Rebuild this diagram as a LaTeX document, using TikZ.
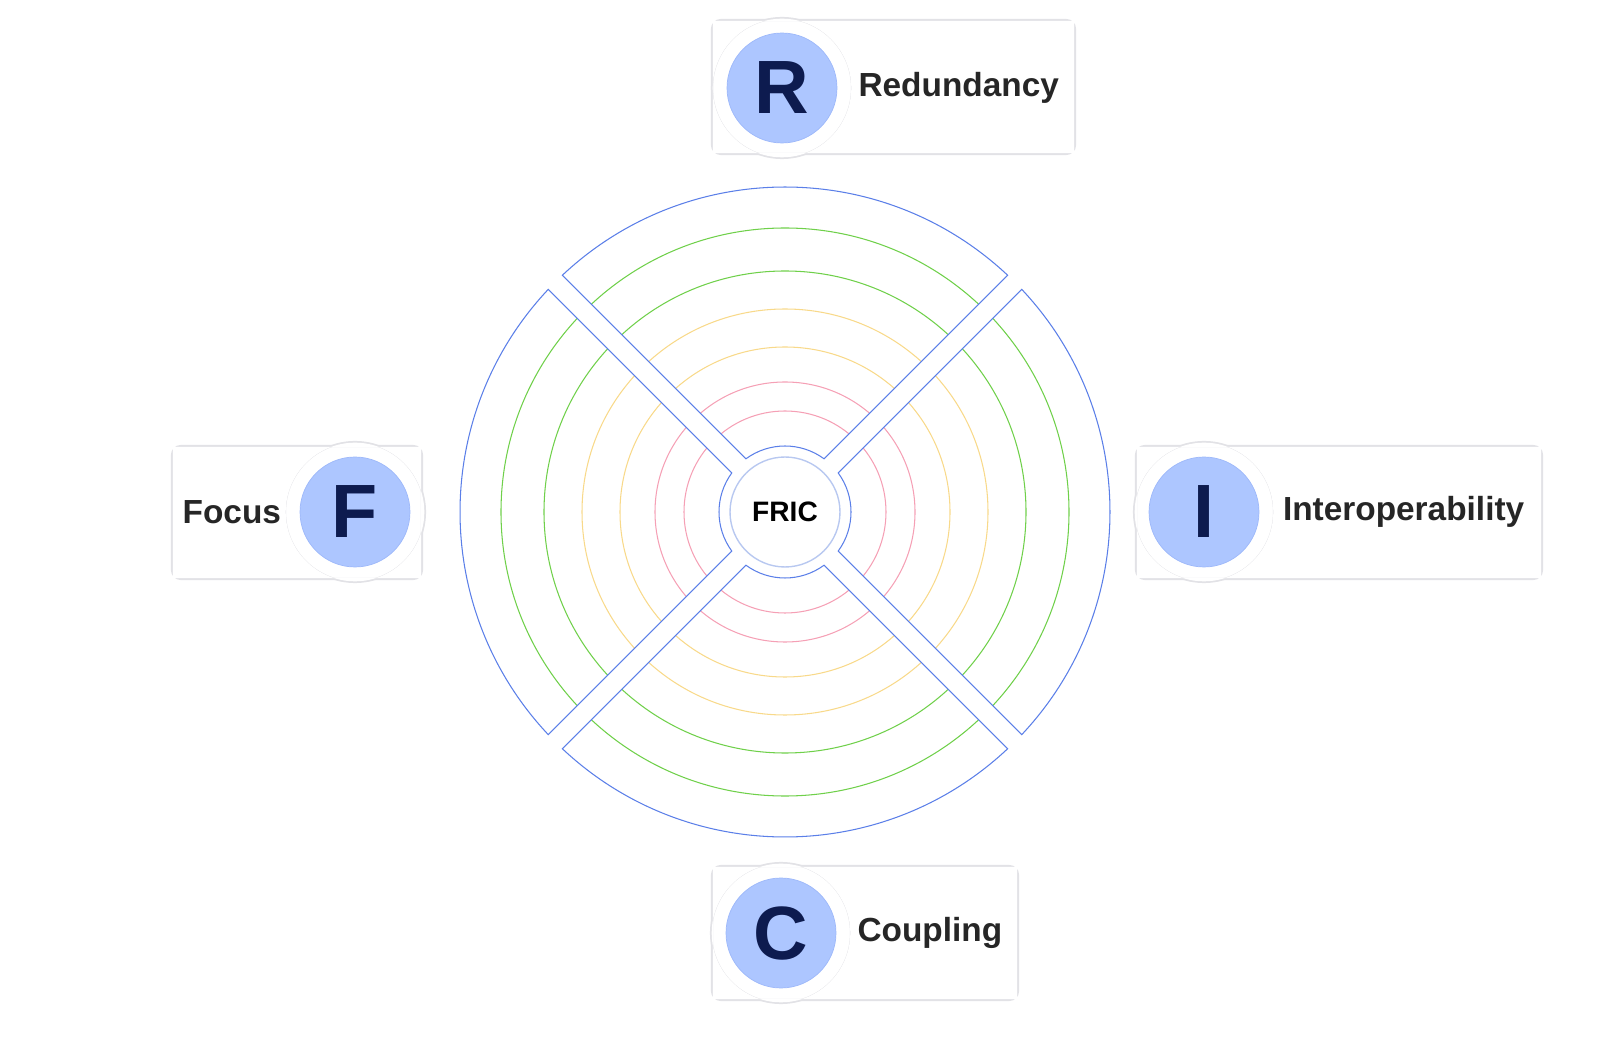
\documentclass[tikz,border=0pt]{standalone}
\usepackage{fontspec}
\setmainfont{Liberation Sans}
\usetikzlibrary{positioning,calc}
\definecolor{ringblue}{HTML}{5B7FE8}
\definecolor{ringgreen}{HTML}{6FD04A}
\definecolor{ringyellow}{HTML}{F8D98A}
\definecolor{ringpink}{HTML}{F5A0B5}
\definecolor{paleblue}{HTML}{B8C8F0}
\definecolor{letterfill}{HTML}{ADC6FF}
\definecolor{letterink}{HTML}{0D1B4F}
\definecolor{cardline}{HTML}{E2E2E6}
\tikzset{
  card/.style={draw=cardline,line width=1.2pt,rounded corners=5pt},
  halo/.style={draw=cardline,line width=1.2pt,circle},
  letter/.style={circle,fill=letterfill,draw=letterfill!80!ringblue,minimum size=2.2cm,inner sep=0pt,
    text=letterink,font=\fontsize{43}{43}\selectfont\bfseries},
  label/.style={font=\fontsize{19}{23}\selectfont\bfseries,text=black!85},
  ring/.style={line width=0.6pt}
}
\begin{document}
\begin{tikzpicture}[x=0.02cm,y=0.02cm]
  \useasboundingbox (0,0) rectangle (1600,1042);
  \coordinate (o) at (785,530);
  % rings
  \foreach \r/\c in {284/ringgreen,241/ringgreen,203/ringyellow,165/ringyellow,130/ringpink,101/ringpink}
    \draw[ring,\c] (o) circle[radius=\r];
  % gaps
  \foreach \a in {45,135}
    \fill[white,rotate around={\a:(o)}] ($(o)+(-330,-10)$) rectangle ($(o)+(330,10)$);
  % sectors
  \foreach \a in {0,90,180,270}
    \draw[ring,ringblue] ($(o)+(\a-43.24:325)$) arc[start angle=\a-43.24,end angle=\a+43.24,radius=325]
      -- ($(o)+(\a+36.3:66)$) arc[start angle=\a+36.3,end angle=\a-36.3,radius=66] -- cycle;
  \node[circle,draw=paleblue,line width=0.8pt,minimum size=2.2cm,font=\fontsize{16}{16}\selectfont\bfseries] (fric) at (o) {FRIC};
  % top card
  \draw[card] (712,888) rectangle (1075,1022);
  \draw[halo] (782,954) circle[radius=70];
  \fill[white] (712.8,888.8) rectangle (1074.2,1021.2) (782,954) circle[radius=69.3];
  \node[letter] (redL) at (782,954) {R};
  \node[label,right=0.3cm of redL] (red) {Redundancy};
  % left card
  \draw[card] (172,463) rectangle (422,596);
  \draw[halo] (355,530) circle[radius=70];
  \fill[white] (172.8,463.8) rectangle (421.2,595.2) (355,530) circle[radius=69.3];
  \node[letter] (focL) at (355,530) {F};
  \node[label,left=0.25cm of focL] (foc) {Focus};
  % right card
  \draw[card] (1136,463) rectangle (1542,596);
  \draw[halo] (1204,530) circle[radius=70];
  \fill[white] (1136.8,463.8) rectangle (1541.2,595.2) (1204,530) circle[radius=69.3];
  \node[letter] (intL) at (1204,530) {I};
  \node[label,right=0.35cm of intL] (int) {Interoperability};
  % bottom card
  \draw[card] (712,42) rectangle (1018,176);
  \draw[halo] (781,109) circle[radius=70];
  \fill[white] (712.8,42.8) rectangle (1017.2,175.2) (781,109) circle[radius=69.3];
  \node[letter] (couL) at (781,109) {C};
  \node[label,right=0.3cm of couL] (cou) {Coupling};
\end{tikzpicture}
\end{document}
